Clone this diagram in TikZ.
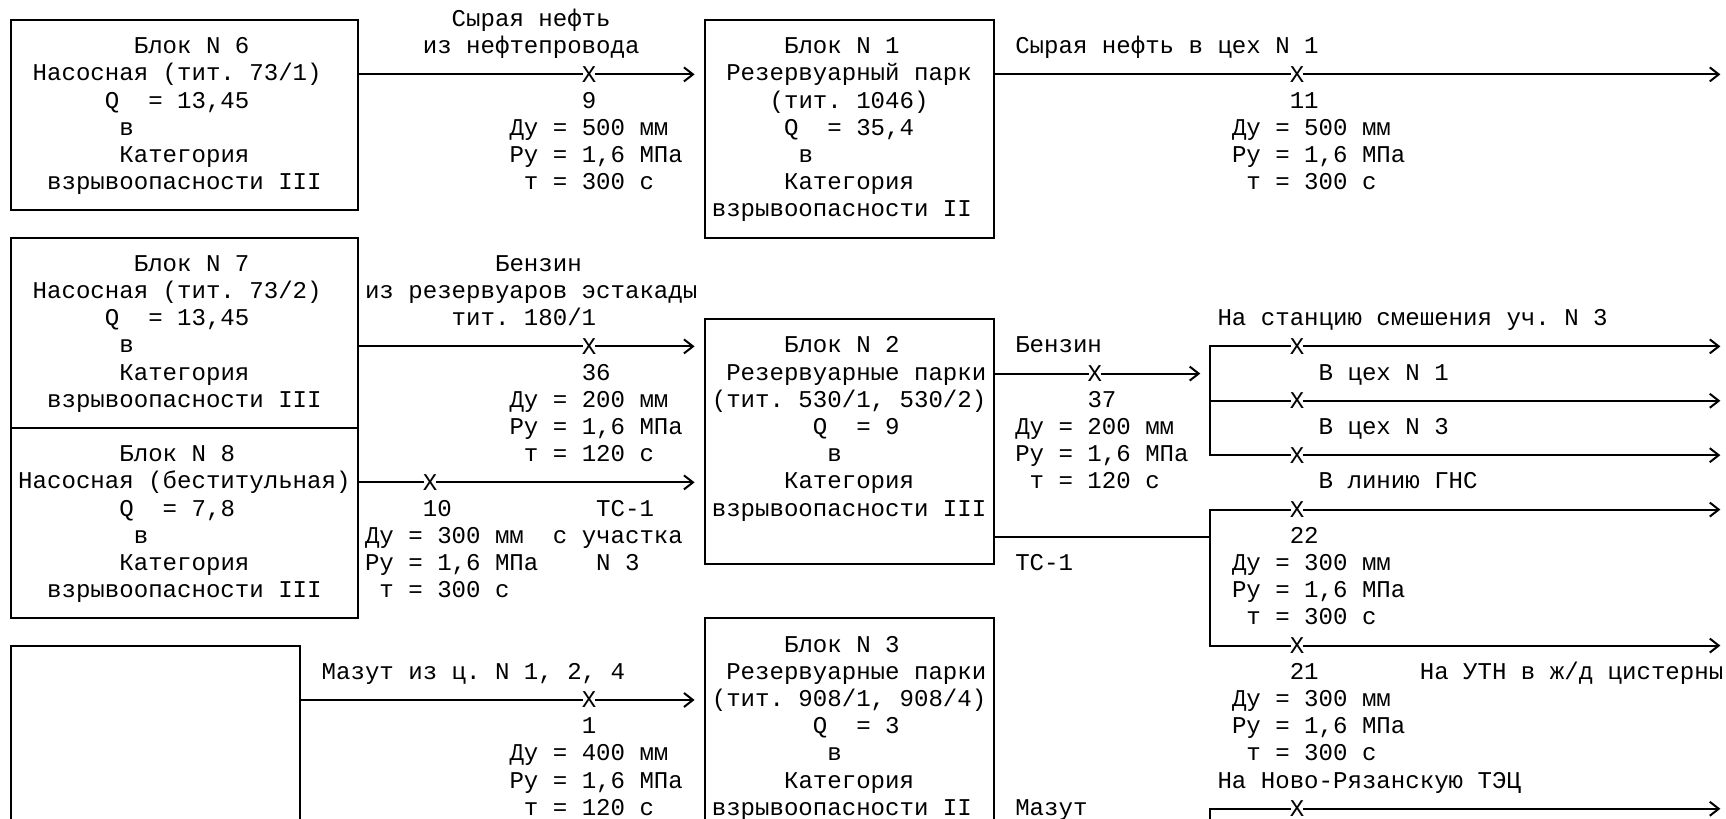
\documentclass[tikz,border=0pt]{standalone}
\usepackage{fontspec}
\setmonofont{Liberation Mono}
\usetikzlibrary{arrows.meta,positioning}

\begin{document}
\begin{tikzpicture}[
  x=14.45pt, y=-27.2pt,
  >={Straight Barb[length=9pt,width=14pt]},
  txt/.style={anchor=base west, inner sep=0pt, outer sep=0pt, font=\ttfamily\fontsize{24.08pt}{27.2pt}\selectfont\frenchspacing},
  xmark/.style={txt, anchor=center, inner xsep=-1pt},
  blk/.style 2 args={draw, line width=2pt, inner sep=0pt, outer sep=0pt, minimum width=#1*14.45pt, minimum height=#2*27.2pt},
  pipe/.style={line width=2pt},
  flow/.style={pipe, ->},
  into/.style={flow, shorten >=10pt}
]
\useasboundingbox (-0.761,-0.735) rectangle (118.689,29.375);
\clip (-0.761,-0.735) rectangle (118.689,29.375);
% Blocks
\node[blk={24}{7}] (blk6) at (12,3.5) {};
\node[blk={20}{8}] (blk1) at (58,4) {};
\node[blk={24}{7}] (blk7) at (12,11.5) {};
\node[blk={24}{7}] (blk8) at (12,18.5) {};
\node[blk={20}{9}] (blk2) at (58,15.5) {};
\node[blk={20}{10}] (blk3) at (58,27) {};
\node[blk={20}{10}] (blk9) at (10,28) {};
% Block texts
\foreach \cx/\ry/\tx [count=\i] in {
  9/1/{Блок N 6}, 2/2/{Насосная (тит. 73/1)}, 7/3/{Q~~= 13,45}, 8/4/{в}, 8/5/{Категория}, 3/6/{взрывоопасности III},
  54/1/{Блок N 1}, 50/2/{Резервуарный парк}, 53/3/{(тит. 1046)}, 54/4/{Q~~= 35,4}, 55/5/{в}, 54/6/{Категория}, 49/7/{взрывоопасности II},
  9/9/{Блок N 7}, 2/10/{Насосная (тит. 73/2)}, 7/11/{Q~~= 13,45}, 8/12/{в}, 8/13/{Категория}, 3/14/{взрывоопасности III},
  8/16/{Блок N 8}, 1/17/{Насосная (беститульная)}, 8/18/{Q~~= 7,8}, 9/19/{в}, 8/20/{Категория}, 3/21/{взрывоопасности III},
  54/12/{Блок N 2}, 50/13/{Резервуарные парки}, 49/14/{(тит. 530/1, 530/2)}, 56/15/{Q~~= 9}, 57/16/{в}, 54/17/{Категория}, 49/18/{взрывоопасности III},
  54/23/{Блок N 3}, 50/24/{Резервуарные парки}, 49/25/{(тит. 908/1, 908/4)}, 56/26/{Q~~= 3}, 57/27/{в}, 54/28/{Категория}, 49/29/{взрывоопасности II}}
  {\node[txt] (bt\i) at (\cx-0.5,\ry+0.24) {\tx};}
% Pipe labels
\foreach \cx/\ry/\tx [count=\i] in {
  31/0/{Сырая нефть}, 29/1/{из нефтепровода}, 40/3/{9}, 70/1/{Сырая нефть в цех N 1}, 89/3/{11},
  34/9/{Бензин}, 25/10/{из резервуаров эстакады}, 31/11/{тит. 180/1}, 40/13/{36},
  29/18/{10}, 41/18/{ТС-1}, 38/19/{с участка}, 41/20/{N 3},
  70/12/{Бензин}, 75/14/{37},
  84/11/{На станцию смешения уч. N 3}, 91/13/{В цех N 1}, 91/15/{В цех N 3}, 91/17/{В линию ГНС},
  89/19/{22}, 70/20/{ТС-1}, 89/24/{21}, 98/24/{На УТН в ж/д цистерны}, 84/28/{На Ново-Рязанскую ТЭЦ},
  22/24/{Мазут из ц. N 1, 2, 4}, 40/26/{1}, 70/29/{Мазут}}
  {\node[txt] (pl\i) at (\cx-0.5,\ry+0.24) {\tx};}
% Pipe data
\foreach \nm/\cx/\ry/\dn/\tw in {p9/35/4/500/300, p11/85/4/500/300, p36/35/14/200/120, p10/25/19/300/300,
  p37/70/15/200/120, p22/85/20/300/300, p21/85/25/300/300, p1/35/27/400/120}
  {\node[txt] (\nm-du) at (\cx-0.5,\ry+0.24) {Ду = \dn\ мм};
   \node[txt] (\nm-pu) at (\cx-0.5,\ry+1.24) {Ру = 1,6 МПа};
   \node[txt] (\nm-t) at (\cx+0.5,\ry+2.24) {т = \tw\ с};}
% Valves
\node[xmark] (x9) at (40,2) {X};
\node[xmark] (x11) at (89,2) {X};
\node[xmark] (x36) at (40,12) {X};
\node[xmark] (x10) at (29,17) {X};
\node[xmark] (x37) at (75,13) {X};
\node[xmark] (xa) at (89,12) {X};
\node[xmark] (xb) at (89,14) {X};
\node[xmark] (xc) at (89,16) {X};
\node[xmark] (x22) at (89,18) {X};
\node[xmark] (x21) at (89,23) {X};
\node[xmark] (x1) at (40,25) {X};
\node[xmark] (xd) at (89,29) {X};
\coordinate (rim) at (118.3,0);
\coordinate (k1) at (83,12);
\coordinate (tc) at (83,19);
\coordinate (kd) at (83,31);
% arrows
\foreach \s/\v/\d in {blk6/x9/blk1, blk7/x36/blk2, blk8/x10/blk2, blk9/x1/blk3}
  {\draw[pipe] (\s.east |- \v) -- (\v); \draw[into] (\v) -- (\d.west |- \v);}
\draw[pipe] (blk1.east |- x11) -- (x11);
\draw[pipe] (blk2.east |- x37) -- (x37);
\draw[into] (x37) -- (x37 -| k1);
\draw[pipe] (xa) -- (xa -| k1) -- (xc -| k1) -- (xc);
\draw[pipe] (xb -| k1) -- (xb);
\draw[pipe] (x22) -- (x22 -| k1) -- (x21 -| k1) -- (x21);
\draw[pipe] (blk2.east |- tc) -- (tc);
\draw[pipe] (xd) -- (xd -| k1) -- (kd);
\foreach \v in {x11,xa,xb,xc,x22,x21,xd} {\draw[flow] (\v) -- (\v -| rim);}
\end{tikzpicture}
\end{document}
